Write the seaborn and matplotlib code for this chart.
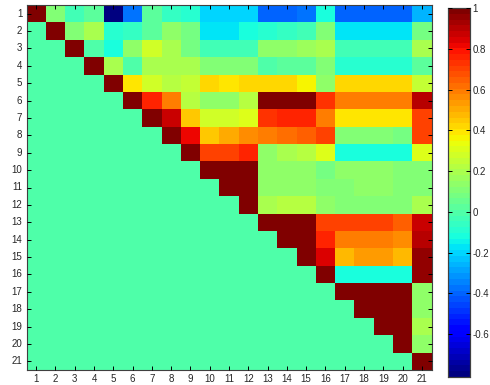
import numpy as np
import pandas as pd
import matplotlib
matplotlib.use("Agg")
import matplotlib.pyplot as plt
import seaborn as sns

sns.set_style("white")
plt.rcParams["font.family"] = ["Liberation Sans", "DejaVu Sans"]

labels = [str(i) for i in range(1, 22)]

# Upper-triangle correlation rows (row k holds columns k..21)
row_01 = [1, 0.12, -0.03, 0.03, -0.81, -0.38, 0.03, -0.05, -0.075, -0.21, -0.21, -0.21,
          -0.41, -0.41, -0.36, -0.12, -0.41, -0.41, -0.39, -0.41, -0.25]
row_02 = [1, 0.095, 0.18, -0.08, -0.05, 0.03, 0.15, 0.07, -0.185, -0.185, -0.13,
          -0.08, -0.05, -0.03, 0.11, -0.185, -0.185, -0.185, -0.185, 0.07]
row_03 = [1, 0.01, -0.11, 0.15, 0.27, 0.18, 0.07, -0.03, -0.03, -0.03,
          0.15, 0.15, 0.16, 0.18, -0.03, -0.03, -0.03, -0.03, 0.18]
row_04 = [1, 0.18, 0.01, 0.18, 0.18, 0.18, 0.11, 0.11, 0.11,
          0.01, 0.03, 0.03, 0.095, -0.08, -0.08, -0.08, -0.08, 0.03]
row_05 = [1, 0.39, 0.27, 0.22, 0.26, 0.43, 0.39, 0.42,
          0.43, 0.43, 0.35, 0.15, 0.43, 0.43, 0.43, 0.43, 0.24]
row_06 = [1, 0.75, 0.60, 0.22, 0.15, 0.15, 0.21,
          1, 1, 1, 0.72, 0.60, 0.60, 0.60, 0.60, 0.89]
row_07 = [1, 0.86, 0.46, 0.28, 0.28, 0.30,
          0.72, 0.77, 0.77, 0.60, 0.40, 0.40, 0.40, 0.40, 0.69]
row_08 = [1, 0.82, 0.46, 0.50, 0.57,
          0.59, 0.62, 0.66, 0.69, 0.095, 0.095, 0.095, 0.07, 0.69]
row_09 = [1, 0.69, 0.69, 0.75,
          0.15, 0.19, 0.22, 0.32, -0.13, -0.13, -0.13, -0.13, 0.30]
row_10 = [1, 1, 1, 0.15, 0.15, 0.15, 0.07, 0.15, 0.15, 0.15, 0.11, 0.095]
row_11 = [1, 1, 0.15, 0.15, 0.15, 0.095, 0.11, 0.15, 0.15, 0.11, 0.11]
row_12 = [1, 0.18, 0.21, 0.21, 0.15, 0.095, 0.095, 0.095, 0.095, 0.19]
row_13 = [1, 1, 1, 0.69, 0.70, 0.70, 0.70, 0.66, 0.86]
row_14 = [1, 1, 0.75, 0.60, 0.60, 0.60, 0.57, 0.91]
row_15 = [1, 0.85, 0.49, 0.52, 0.52, 0.49, 0.95]
row_16 = [1, -0.12, -0.12, -0.12, -0.12, 0.95]
row_17 = [1, 1, 1, 1, 0.15]
row_18 = [1, 1, 1, 0.15]
row_19 = [1, 1, 0.18]
row_20 = [1, 0.15]
row_21 = [1]

rows = [row_01, row_02, row_03, row_04, row_05, row_06, row_07, row_08, row_09,
        row_10, row_11, row_12, row_13, row_14, row_15, row_16, row_17, row_18,
        row_19, row_20, row_21]

n = len(labels)
mat = np.zeros((n, n))
for k, r in enumerate(rows):
    mat[k, k:] = r
df = pd.DataFrame(mat, index=labels, columns=labels)

fig = plt.figure(figsize=(4.9, 3.85), dpi=100)
ax = fig.add_axes([26.5 / 490, 15 / 385, 405 / 490, 365 / 385])
cax = fig.add_axes([448 / 490, 8 / 385, 22 / 490, 369 / 385])

jet64 = plt.get_cmap("jet", 64)
sns.heatmap(df, ax=ax, cmap=jet64, vmin=mat.min(), vmax=1.0,
            cbar_ax=cax, xticklabels=labels, yticklabels=labels)

# keep tick marks drawn on top of the colour cells
ax.set_axisbelow(False)
cax.set_axisbelow(False)

for s in ax.spines.values():
    s.set_visible(True)
    s.set_color("#404040")
    s.set_linewidth(0.8)
ax.tick_params(axis="both", which="major", direction="in", length=3, width=0.7,
               labelsize=7, top=True, right=True, bottom=True, left=True,
               labeltop=False, labelright=False, color="black", pad=3)
ax.tick_params(axis="x", labelrotation=0)
ax.tick_params(axis="y", labelrotation=0)

cax.set_yticks([-0.6, -0.4, -0.2, 0, 0.2, 0.4, 0.6, 0.8, 1])
cax.set_yticklabels(["-0.6", "-0.4", "-0.2", "0", "0.2", "0.4", "0.6", "0.8", "1"])
cax.tick_params(axis="y", direction="in", length=3, width=0.7, labelsize=7,
                left=True, right=True, color="black", pad=2)
for s in cax.spines.values():
    s.set_visible(True)
    s.set_color("#404040")
    s.set_linewidth(0.8)

fig.savefig("out.png", dpi=100)
